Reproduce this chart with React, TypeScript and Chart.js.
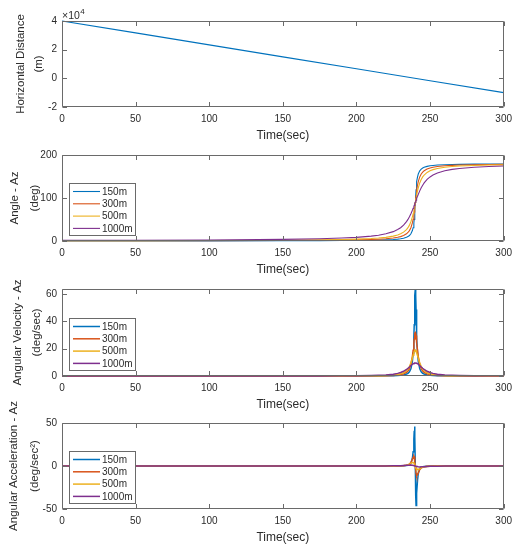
import React, { useEffect, useRef } from "react";
import { Chart, registerables } from "chart.js";

Chart.register(...registerables);

// ---------------- data ----------------
const SERIES_LABELS = ["150m", "300m", "500m", "1000m"];
const SERIES_COLORS = ["#0072BD", "#D95319", "#EDB120", "#7E2F8E"];

const X_TICKS = [0, 50, 100, 150, 200, 250, 300];
const Y_TICKS_DIST = [-2, 0, 2, 4];
const Y_TICKS_ANGLE = [0, 100, 200];
const Y_TICKS_VEL = [0, 20, 40, 60];
const Y_TICKS_ACC = [-50, 0, 50];

const TIME_DIST = [0, 50, 100, 150, 200, 250, 300];
const DIST_M = [40000, 31667, 23333, 15000, 6667, -1667, -10000];

const TIME = [
  0, 50, 100, 150, 175, 190, 200, 210, 215, 220, 225, 228, 230, 232, 234, 235, 236, 237, 238, 238.5,
  239, 239.25, 239.5, 239.75, 240, 240.25, 240.5, 240.75, 241, 241.5, 242, 243, 244, 245, 246, 248,
  250, 252, 255, 260, 265, 270, 280, 290, 300,
];

const ANGLE_150 = [
  0.21, 0.27, 0.37, 0.57, 0.79, 1.03, 1.29, 1.72, 2.06, 2.58, 3.43, 4.29, 5.14, 6.42, 8.53, 10.2, 12.68, 16.7, 24.23, 30.96,
  41.99, 50.19, 60.95, 74.48, 90, 105.52, 119.05, 129.81, 138.01, 149.04, 155.77, 163.3, 167.32, 169.8, 171.47, 173.58,
  174.86, 175.71, 176.57, 177.42, 177.94, 178.28, 178.71, 178.97, 179.14,
];
const ANGLE_300 = [
  0.43, 0.54, 0.74, 1.15, 1.59, 2.06, 2.58, 3.43, 4.12, 5.14, 6.84, 8.53, 10.2, 12.68, 16.7, 19.8, 24.23, 30.96, 41.99, 50.19,
  60.95, 67.38, 74.48, 82.09, 90, 97.91, 105.52, 112.62, 119.05, 129.81, 138.01, 149.04, 155.77, 160.2, 163.3, 167.32,
  169.8, 171.47, 173.16, 174.86, 175.88, 176.57, 177.42, 177.94, 178.28,
];
const ANGLE_500 = [
  0.72, 0.91, 1.23, 1.91, 2.64, 3.43, 4.29, 5.71, 6.84, 8.53, 11.31, 14.04, 16.7, 20.56, 26.57, 30.96, 36.87, 45.0, 56.31, 63.43,
  71.57, 75.96, 80.54, 85.24, 90, 94.76, 99.46, 104.04, 108.43, 116.57, 123.69, 135.0, 143.13, 149.04, 153.43, 159.44,
  163.3, 165.96, 168.69, 171.47, 173.16, 174.29, 175.71, 176.57, 177.14,
];
const ANGLE_1000 = [
  1.43, 1.81, 2.45, 3.81, 5.27, 6.84, 8.53, 11.31, 13.5, 16.7, 21.8, 26.57, 30.96, 36.87, 45.0, 50.19, 56.31, 63.43, 71.57, 75.96,
  80.54, 82.87, 85.24, 87.61, 90, 92.39, 94.76, 97.13, 99.46, 104.04, 108.43, 116.57, 123.69, 129.81, 135.0, 143.13,
  149.04, 153.43, 158.2, 163.3, 166.5, 168.69, 171.47, 173.16, 174.29,
];

const VEL_150 = [
  0.001, 0.001, 0.003, 0.006, 0.012, 0.021, 0.032, 0.057, 0.082, 0.129, 0.228, 0.356, 0.512, 0.796, 1.401, 1.998, 3.067, 5.256, 10.72, 16.85,
  28.49, 37.57, 48.65, 59.1, 63.66, 59.1, 48.65, 37.57, 28.49, 16.85, 10.72, 5.256, 3.067, 1.998, 1.401, 0.796,
  0.512, 0.356, 0.228, 0.129, 0.082, 0.057, 0.032, 0.021, 0.014,
];
const VEL_300 = [
  0.002, 0.003, 0.005, 0.013, 0.024, 0.041, 0.064, 0.114, 0.164, 0.256, 0.452, 0.7, 0.999, 1.534, 2.628, 3.652, 5.36, 8.426, 14.24, 18.78,
  24.32, 27.12, 29.55, 31.23, 31.83, 31.23, 29.55, 27.12, 24.32, 18.78, 14.24, 8.426, 5.36, 3.652, 2.628, 1.534,
  0.999, 0.7, 0.452, 0.256, 0.164, 0.114, 0.064, 0.041, 0.029,
];
const VEL_500 = [
  0.003, 0.005, 0.009, 0.021, 0.041, 0.069, 0.107, 0.189, 0.271, 0.42, 0.735, 1.123, 1.577, 2.355, 3.82, 5.056, 6.876, 9.55, 13.22, 15.28,
  17.19, 17.98, 18.58, 18.97, 19.1, 18.97, 18.58, 17.98, 17.19, 15.28, 13.22, 9.55, 6.876, 5.056, 3.82, 2.355,
  1.577, 1.123, 0.735, 0.42, 0.271, 0.189, 0.107, 0.069, 0.048,
];
const VEL_1000 = [
  0.006, 0.01, 0.018, 0.042, 0.081, 0.136, 0.21, 0.367, 0.52, 0.788, 1.317, 1.91, 2.528, 3.438, 4.775, 5.635, 6.611, 7.639, 8.594, 8.987,
  9.291, 9.402, 9.483, 9.532, 9.549, 9.532, 9.483, 9.402, 9.291, 8.987, 8.594, 7.639, 6.611, 5.635, 4.775, 3.438,
  2.528, 1.91, 1.317, 0.788, 0.52, 0.367, 0.21, 0.136, 0.095,
];

const ACC_150 = [
  0, 0, 0, 0, 0.001, 0.002, 0.003, 0.004, 0.007, 0.013, 0.03, 0.059, 0.102, 0.196, 0.457, 0.774, 1.46, 3.215, 8.915, 16.52,
  31.48, 41.06, 45.89, 33.87, 0, -33.87, -45.89, -41.06, -31.48, -16.52, -8.915, -3.215, -1.46, -0.774, -0.457, -0.196,
  -0.102, -0.059, -0.03, -0.013, -0.007, -0.004, -0.003, -0.002, -0.001,
];
const ACC_300 = [
  0, 0, 0, 0.001, 0.001, 0.002, 0.003, 0.008, 0.013, 0.025, 0.059, 0.114, 0.194, 0.365, 0.804, 1.293, 2.229, 4.13, 7.87, 10.27,
  11.47, 10.7, 8.467, 4.728, 0, -4.728, -8.467, -10.7, -11.47, -10.27, -7.87, -4.13, -2.229, -1.293, -0.804, -0.365,
  -0.194, -0.114, -0.059, -0.025, -0.013, -0.008, -0.003, -0.002, -0.001,
];
const ACC_500 = [
  0, 0, 0, 0.001, 0.001, 0.003, 0.005, 0.013, 0.021, 0.041, 0.094, 0.176, 0.289, 0.516, 1.019, 1.487, 2.2, 3.183, 4.068, 4.074,
  3.438, 2.82, 2.009, 1.047, 0, -1.047, -2.009, -2.82, -3.438, -4.074, -4.068, -3.183, -2.2, -1.487, -1.019, -0.516,
  -0.289, -0.176, -0.094, -0.041, -0.021, -0.013, -0.005, -0.003, -0.002,
];
const ACC_1000 = [
  0, 0, 0, 0.001, 0.003, 0.005, 0.01, 0.024, 0.039, 0.072, 0.151, 0.255, 0.372, 0.55, 0.796, 0.924, 1.017, 1.019, 0.859, 0.705,
  0.502, 0.386, 0.262, 0.132, 0, -0.132, -0.262, -0.386, -0.502, -0.705, -0.859, -1.019, -1.017, -0.924, -0.796, -0.55,
  -0.372, -0.255, -0.151, -0.072, -0.039, -0.024, -0.01, -0.005, -0.003,
];

// ---------------- styling / layout ----------------
const W = 518;
const H = 546;
const FONT = "'Liberation Sans', Arial, Helvetica, sans-serif";
const TEXT = "#2b2b2b";
const AXIS = "#6a6a6a";
const X_AXIS_H = 36;
const Y_AXIS_W = 62;
const RIGHT_PAD = 13;

type Series = { label: string; color: string; values: number[] };
type PanelCfg = {
  top: number;
  bottom: number;
  yMin: number;
  yMax: number;
  yTicks: number[];
  yTitle: string[];
  yTitleX: number[];
  xs: number[];
  series: Series[];
  scale: number;
  lineWidth: number;
  legend: boolean;
  exponent?: string;
};

const mk = (vals: number[][]): Series[] =>
  vals.map((v, i) => ({ label: SERIES_LABELS[i], color: SERIES_COLORS[i], values: v }));

const PANELS: PanelCfg[] = [
  {
    top: 21, bottom: 107, yMin: -2, yMax: 4, yTicks: Y_TICKS_DIST,
    yTitle: ["Horizontal Distance", "(m)"], yTitleX: [21, 38.5],
    xs: TIME_DIST, series: [{ label: "distance", color: SERIES_COLORS[0], values: DIST_M }],
    scale: 1e-4, lineWidth: 1.2, legend: false, exponent: "4",
  },
  {
    top: 155, bottom: 241, yMin: 0, yMax: 200, yTicks: Y_TICKS_ANGLE,
    yTitle: ["Angle - Az", "(deg)"], yTitleX: [15, 34.5],
    xs: TIME, series: mk([ANGLE_150, ANGLE_300, ANGLE_500, ANGLE_1000]),
    scale: 1, lineWidth: 1.1, legend: true,
  },
  {
    top: 289, bottom: 376, yMin: 0, yMax: 63.66, yTicks: Y_TICKS_VEL,
    yTitle: ["Angular Velocity - Az", "(deg/sec)"], yTitleX: [17.5, 37],
    xs: TIME, series: mk([VEL_150, VEL_300, VEL_500, VEL_1000]),
    scale: 1, lineWidth: 1.5, legend: true,
  },
  {
    top: 423, bottom: 509, yMin: -50, yMax: 50, yTicks: Y_TICKS_ACC,
    yTitle: ["Angular Acceleration - Az", "(deg/sec\u00B2)"], yTitleX: [13.5, 35],
    xs: TIME, series: mk([ACC_150, ACC_300, ACC_500, ACC_1000]),
    scale: 1, lineWidth: 1.5, legend: true,
  },
];

function makeDecor(cfg: PanelCfg) {
  return {
    id: "matlabDecor",
    afterDatasetsDraw(chart: any) {
      const { ctx, chartArea: a, scales } = chart;
      const L = Math.round(a.left) + 0.5;
      const R = Math.round(a.right) - 0.5;
      const T = Math.round(a.top) + 0.5;
      const B = Math.round(a.bottom) - 0.5;
      ctx.save();
      ctx.strokeStyle = AXIS;
      ctx.lineWidth = 1;
      ctx.beginPath();
      ctx.rect(L, T, R - L, B - T);
      const tl = 4.5;
      scales.x.ticks.forEach((t: any) => {
        const px = Math.round(scales.x.getPixelForValue(t.value)) + 0.5;
        ctx.moveTo(px, B);
        ctx.lineTo(px, B - tl);
        ctx.moveTo(px, T);
        ctx.lineTo(px, T + tl);
      });
      scales.y.ticks.forEach((t: any) => {
        const py = Math.round(scales.y.getPixelForValue(t.value)) + 0.5;
        ctx.moveTo(L, py);
        ctx.lineTo(L + tl, py);
        ctx.moveTo(R, py);
        ctx.lineTo(R - tl, py);
      });
      ctx.stroke();
      ctx.restore();
    },
    afterDraw(chart: any) {
      const { ctx, chartArea: a } = chart;
      ctx.save();
      // y-axis title (rotated, multi-line)
      ctx.fillStyle = TEXT;
      ctx.font = `11.5px ${FONT}`;
      ctx.textAlign = "center";
      ctx.textBaseline = "middle";
      const cy = (a.top + a.bottom) / 2;
      cfg.yTitle.forEach((line, i) => {
        ctx.save();
        ctx.translate(cfg.yTitleX[i], cy);
        ctx.rotate(-Math.PI / 2);
        ctx.fillText(line, 0, 0);
        ctx.restore();
      });
      // exponent label
      if (cfg.exponent) {
        ctx.textAlign = "left";
        ctx.textBaseline = "alphabetic";
        ctx.font = `10.5px ${FONT}`;
        const base = "\u00D710";
        ctx.fillText(base, a.left, a.top - 2.5);
        const w = ctx.measureText(base).width;
        ctx.font = `8px ${FONT}`;
        ctx.fillText(cfg.exponent, a.left + w + 0.5, a.top - 7);
      }
      // legend box
      if (cfg.legend) {
        const ds = chart.data.datasets;
        const bw = 66;
        const bh = 52;
        const bx = Math.round(a.left + 7);
        const by = Math.round(a.bottom - 6 - bh);
        ctx.fillStyle = "#ffffff";
        ctx.fillRect(bx, by, bw, bh);
        ctx.strokeStyle = AXIS;
        ctx.lineWidth = 1;
        ctx.strokeRect(bx + 0.5, by + 0.5, bw, bh);
        ctx.font = `10px ${FONT}`;
        ctx.textAlign = "left";
        ctx.textBaseline = "middle";
        ds.forEach((d: any, i: number) => {
          const y = by + 8.5 + i * 12.3;
          ctx.strokeStyle = d.borderColor;
          ctx.lineWidth = d.borderWidth;
          ctx.beginPath();
          ctx.moveTo(bx + 4, y);
          ctx.lineTo(bx + 31, y);
          ctx.stroke();
          ctx.fillStyle = TEXT;
          ctx.fillText(d.label, bx + 33, y + 0.5);
        });
      }
      ctx.restore();
    },
  };
}

function Panel({ cfg }: { cfg: PanelCfg }) {
  const ref = useRef<HTMLCanvasElement>(null);
  useEffect(() => {
    const canvas = ref.current!;
    const n = cfg.series.length;
    const chart = new Chart(canvas, {
      type: "line",
      data: {
        datasets: cfg.series.map((s, i) => ({
          label: s.label,
          data: cfg.xs.map((x, j) => ({ x, y: s.values[j] * cfg.scale })),
          borderColor: s.color,
          backgroundColor: s.color,
          borderWidth: cfg.lineWidth,
          pointRadius: 0,
          tension: 0,
          fill: false,
          order: n - i,
          clip: 4,
        })),
      },
      options: {
        responsive: false,
        animation: false,
        devicePixelRatio: 1,
        events: [],
        layout: {
          padding: { top: cfg.top, bottom: H - X_AXIS_H - cfg.bottom, left: 0, right: RIGHT_PAD },
        },
        plugins: { legend: { display: false }, tooltip: { enabled: false } },
        scales: {
          x: {
            type: "linear",
            min: 0,
            max: 300,
            grid: { display: false, drawTicks: false },
            border: { display: false },
            afterBuildTicks: (s: any) => {
              s.ticks = X_TICKS.map((v) => ({ value: v }));
            },
            afterFit: (s: any) => {
              s.height = X_AXIS_H;
            },
            ticks: {
              padding: 6,
              color: TEXT,
              autoSkip: false,
              maxRotation: 0,
              font: { family: FONT, size: 10 },
              callback: (v: any) => String(v),
            },
            title: {
              display: true,
              text: "Time(sec)",
              color: TEXT,
              font: { family: FONT, size: 12 },
              padding: 0,
            },
          },
          y: {
            type: "linear",
            min: cfg.yMin,
            max: cfg.yMax,
            grid: { display: false, drawTicks: false },
            border: { display: false },
            afterBuildTicks: (s: any) => {
              s.ticks = cfg.yTicks.map((v) => ({ value: v }));
            },
            afterFit: (s: any) => {
              s.width = Y_AXIS_W;
            },
            ticks: {
              padding: 5,
              color: TEXT,
              autoSkip: false,
              font: { family: FONT, size: 10 },
              callback: (v: any) => String(v),
            },
          },
        },
      } as any,
      plugins: [makeDecor(cfg)],
    });
    return () => chart.destroy();
  }, [cfg]);
  return (
    <canvas
      ref={ref}
      width={W}
      height={H}
      style={{ position: "absolute", left: 0, top: 0, width: W, height: H }}
    />
  );
}

export default function App() {
  return (
    <div
      style={{
        position: "absolute",
        left: 0,
        top: 0,
        width: W,
        height: H,
        background: "#ffffff",
        overflow: "hidden",
      }}
    >
      {PANELS.map((p, i) => (
        <Panel key={i} cfg={p} />
      ))}
    </div>
  );
}
